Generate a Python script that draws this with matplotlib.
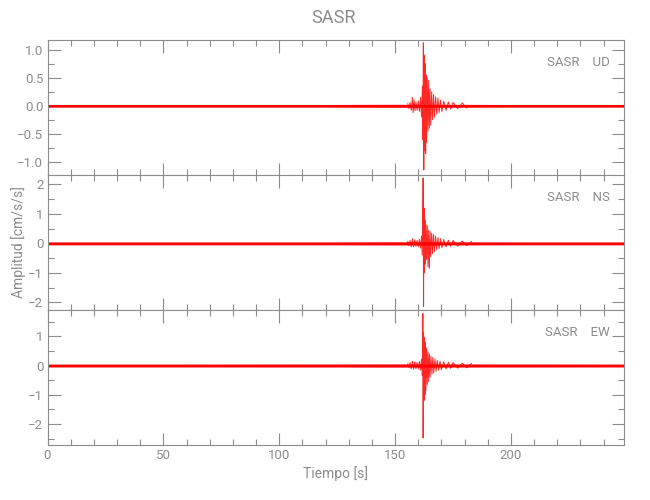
import matplotlib
matplotlib.use("Agg")
import matplotlib.pyplot as plt
from matplotlib.ticker import MultipleLocator, FuncFormatter

plt.rcParams['font.family'] = ['Roboto', 'DejaVu Sans']

title = "SASR"
components = ["UD", "NS", "EW"]
station = "SASR"
xlabel = "Tiempo [s]"
ylabel = "Amplitud [cm/s/s]"

# background noise half-width envelope (time knots, half-width)
noise_t = [0, 60, 120, 150, 200, 248.8]
ud_noise = [0.024, 0.024, 0.024, 0.027, 0.024, 0.024]
ns_noise = [0.05, 0.05, 0.05, 0.055, 0.05, 0.05]
ew_noise = [0.05, 0.05, 0.052, 0.055, 0.052, 0.05]

# event peaks (time, amplitude)
ud_t = [155.5, 156.0, 156.5, 157.0, 157.5, 157.8, 158.2, 158.6, 159.0, 159.5, 160.0, 160.5,
        161.0, 161.4, 161.8, 162.0, 162.2, 162.4, 162.6, 162.8, 163.0, 163.2, 163.4, 163.6,
        163.9, 164.2, 164.5, 164.8, 165.1, 165.4, 165.8, 166.2, 166.6, 167.0, 167.5, 168.0,
        168.5, 169.0, 169.6, 170.2, 171.0, 172.0, 173.0, 174.0, 175.0, 177.0, 179.0, 181.0]
ud_a = [0.04, -0.05, 0.06, -0.08, 0.15, -0.12, 0.10, -0.09, 0.07, -0.08, 0.09, -0.10,
        0.15, -0.20, 0.35, -0.60, 1.12, -1.14, 0.90, -0.80, 0.75, -0.85, 0.55, -0.65,
        0.50, -0.45, 0.45, -0.40, 0.30, -0.35, 0.25, -0.25, 0.20, -0.20, 0.16, -0.15,
        0.14, -0.12, 0.10, -0.10, 0.08, -0.08, 0.07, -0.06, 0.06, -0.05, 0.05, -0.04]

ns_t = [155.5, 156.0, 156.5, 157.0, 157.5, 158.0, 158.5, 159.0, 159.5, 160.0, 160.5, 161.0,
        161.4, 161.7, 161.9, 162.1, 162.3, 162.5, 162.7, 162.9, 163.1, 163.3, 163.6, 163.9,
        164.2, 164.5, 164.8, 165.1, 165.4, 165.8, 166.2, 166.6, 167.0, 167.5, 168.0, 168.5,
        169.0, 169.6, 170.2, 171.0, 172.0, 173.0, 174.0, 175.0, 177.0, 179.0, 181.0, 183.0]
ns_a = [0.07, -0.08, 0.10, -0.12, 0.16, -0.12, 0.12, -0.10, 0.10, -0.12, 0.14, -0.16,
        0.25, -0.40, 0.60, 2.22, -2.15, 1.20, -1.00, 0.80, -0.70, 0.65, -0.55, 0.60,
        -0.80, 0.45, -0.85, 0.40, -0.45, 0.35, -0.35, 0.30, -0.28, 0.25, -0.22, 0.20,
        -0.18, 0.16, -0.15, 0.13, -0.12, 0.11, -0.10, 0.10, -0.09, 0.08, -0.08, 0.07]

ew_t = [155.5, 156.0, 156.5, 157.0, 157.5, 158.0, 158.5, 159.0, 159.5, 160.0, 160.5, 161.0,
        161.4, 161.7, 161.9, 162.0, 162.1, 162.3, 162.5, 162.7, 162.9, 163.1, 163.3, 163.6,
        163.9, 164.2, 164.5, 164.8, 165.1, 165.5, 165.9, 166.3, 166.7, 167.2, 167.7, 168.2,
        168.8, 169.4, 170.0, 171.0, 172.0, 173.0, 174.0, 175.0, 177.0, 179.0, 181.0, 183.0]
ew_a = [0.07, -0.08, 0.10, -0.12, 0.15, -0.13, 0.12, -0.11, 0.11, -0.12, 0.14, -0.16,
        0.22, -0.35, 0.50, 1.78, -2.48, 1.13, -1.20, 0.95, -1.00, 0.80, -0.85, 0.60,
        -0.65, 0.47, -0.55, 0.40, -0.40, 0.32, -0.30, 0.28, -0.25, 0.22, -0.20, 0.18,
        -0.16, 0.15, -0.14, 0.13, -0.12, 0.11, -0.10, 0.10, -0.09, 0.08, -0.08, 0.07]

xlim = (0, 248.8)
ylims = [(-1.23, 1.17), (-2.26, 2.32), (-2.72, 1.90)]
ymajor = [0.5, 1, 1]
yminor = [0.25, 0.5, 0.5]
ytickfmt = ["{:.1f}", "{:.0f}", "{:.0f}"]

gray = "#8c8c8c"
red = "#ff0000"

fig = plt.figure(figsize=(6.5, 5), dpi=100)
bounds = [(0.65, 0.92), (0.38, 0.65), (0.11, 0.38)]
left, width = 47.5 / 650, 576.5 / 650

data = [(ud_noise, ud_t, ud_a), (ns_noise, ns_t, ns_a), (ew_noise, ew_t, ew_a)]
axes = []
for i, ((b, t), (noise, et, ea)) in enumerate(zip(bounds, data)):
    ax = fig.add_axes([left, b, width, t - b])
    axes.append(ax)
    ax.fill_between(noise_t, [-n for n in noise], noise, color=red, lw=0, zorder=2)
    ax.plot(et, ea, color=red, lw=0.7, alpha=0.85, zorder=3)
    ax.set_xlim(*xlim)
    ax.set_ylim(*ylims[i])
    ax.xaxis.set_major_locator(MultipleLocator(50))
    ax.xaxis.set_minor_locator(MultipleLocator(10))
    ax.yaxis.set_major_locator(MultipleLocator(ymajor[i]))
    ax.yaxis.set_minor_locator(MultipleLocator(yminor[i]))
    fmt = ytickfmt[i]
    ax.yaxis.set_major_formatter(FuncFormatter(
        lambda v, p, fmt=fmt: fmt.format(v).replace("-", "\u2212") if abs(v) > 1e-9 else fmt.format(0.0)))
    ax.tick_params(which="both", direction="in", top=True, right=True, colors=gray,
                   labelsize=9.5, width=0.8, pad=3)
    ax.tick_params(which="major", length=9)
    ax.tick_params(which="minor", length=4.5)
    for s in ax.spines.values():
        s.set_color(gray)
        s.set_linewidth(0.8)
    if i < 2:
        ax.tick_params(labelbottom=False)
    ax.text(0.976, 0.837, f"{station}    {components[i]}", transform=ax.transAxes,
            ha="right", va="center", color=gray, fontsize=9.5)

axes[2].set_xlabel(xlabel, color=gray, fontsize=10, labelpad=3)
axes[1].set_ylabel(ylabel, color=gray, fontsize=10)
axes[1].yaxis.set_label_coords(-0.037, 0.5)
fig.text(0.513, 0.964, title, ha="center", va="center", color=gray, fontsize=13)

fig.savefig("out.png", dpi=100)
